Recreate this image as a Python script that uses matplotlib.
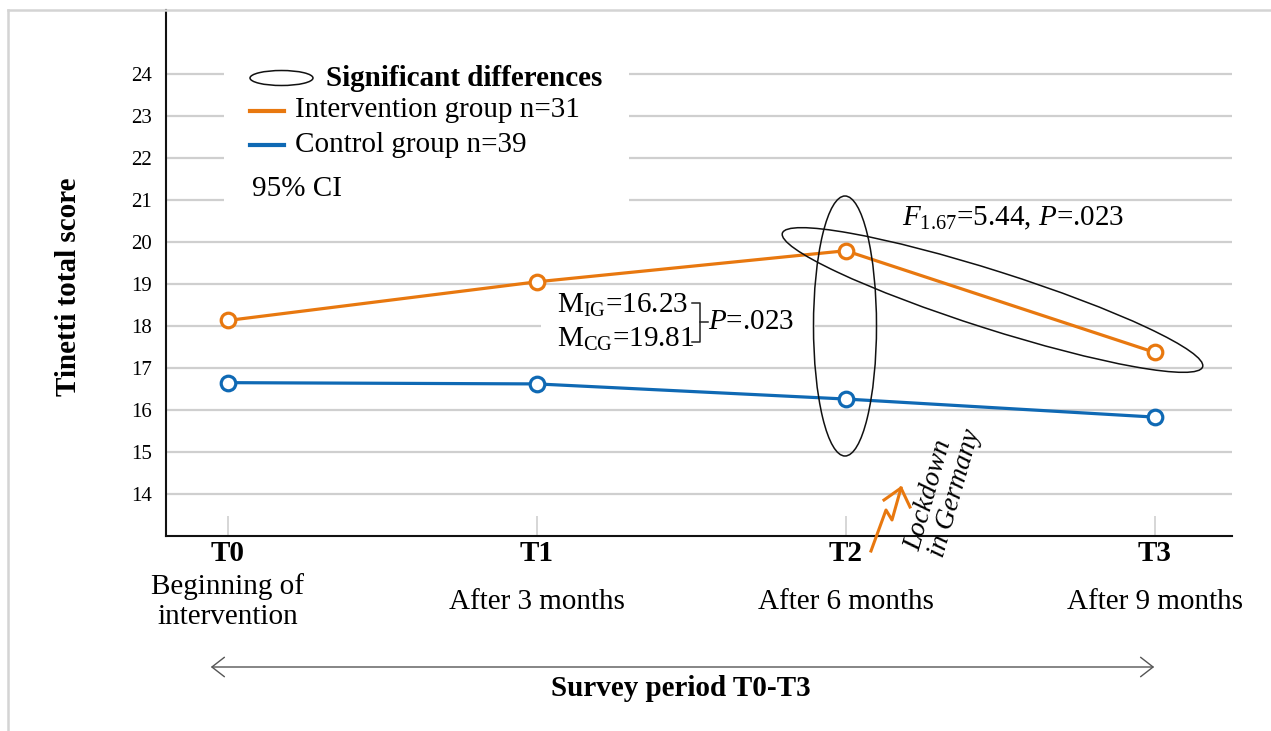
import matplotlib
matplotlib.use("Agg")
import matplotlib.pyplot as plt
from matplotlib.patches import Ellipse, Rectangle, FancyArrowPatch
from matplotlib.lines import Line2D
from matplotlib.transforms import Affine2D, blended_transform_factory

plt.rcParams['font.family'] = ['Liberation Serif', 'DejaVu Serif']
plt.rcParams['mathtext.fontset'] = 'custom'
plt.rcParams['mathtext.rm'] = 'Liberation Serif'
plt.rcParams['mathtext.it'] = 'Liberation Serif:italic'
plt.rcParams['mathtext.bf'] = 'Liberation Serif:bold'

# data
time_points = ['T0', 'T1', 'T2', 'T3']
time_labels = ['Beginning of\nintervention', 'After 3 months', 'After 6 months', 'After 9 months']
ig_scores = [18.13, 19.05, 19.79, 17.37]
cg_scores = [16.65, 16.62, 16.26, 15.83]
y_ticks = list(range(14, 25))

ORANGE = '#E8780F'
BLUE = '#0F69B4'
GRID = '#cfcfcf'

W, H = 1271, 731
fig = plt.figure(figsize=(W / 100, H / 100), dpi=100)
# pixel coordinates, origin top-left (for annotation placement)
PX = Affine2D().scale(1, -1).translate(0, H)

ax = fig.add_axes([166 / W, 1 - 536 / H, (1232 - 166) / W, (536 - 10) / H])
x = list(range(len(time_points)))

ax.plot(x, ig_scores, color=ORANGE, lw=2.3, marker='o', ms=10.5, mfc='white', mew=2.3, zorder=4)
ax.plot(x, cg_scores, color=BLUE, lw=2.3, marker='o', ms=10.5, mfc='white', mew=2.3, zorder=4)

ax.set_xlim(-0.2, 3.25)
ax.set_ylim(13, 25.52)
ax.set_yticks(y_ticks)
ax.tick_params(axis='y', length=0, pad=10, labelsize=15)
ax.set_xticks(x)
ax.set_xticklabels(time_points, fontweight='bold', fontsize=21)
ax.tick_params(axis='x', direction='in', length=14.5, width=1.2, color=GRID, pad=3)
ax.grid(axis='y', color=GRID, lw=1.6)
ax.set_axisbelow(True)
for side in ['top', 'right']:
    ax.spines[side].set_visible(False)
for side in ['left', 'bottom']:
    ax.spines[side].set_linewidth(1.5)
    ax.spines[side].set_color('#111111')

# white boxes behind legend and mean annotation
ax.add_patch(Rectangle((224, 55), 405, 160, transform=PX, facecolor='white', edgecolor='none', zorder=1))
ax.add_patch(Rectangle((541, 292), 274, 64, transform=PX, facecolor='white', edgecolor='none', zorder=1))

# sub labels under ticks
xsub = blended_transform_factory(ax.transData, PX)
for i, lab in enumerate(time_labels):
    ax.text(i, 602, lab, transform=xsub, ha='center', va='center', fontsize=21,
            linespacing=1.2, clip_on=False)

# y label
fig.text(68, 287, 'Tinetti total score', transform=PX, rotation=90, ha='center', va='center',
         fontsize=21, fontweight='bold')

# legend
ax.add_patch(Ellipse((281.5, 78), 63, 15, transform=PX, fill=False, edgecolor='#111111', lw=1.1,
                     clip_on=False, zorder=5))
fig.text(326, 78, 'Significant differences', transform=PX, va='center', fontsize=21, fontweight='bold')
fig.add_artist(Line2D([250, 284], [111, 111], transform=PX, color=ORANGE, lw=3))
fig.text(295, 110, 'Intervention group n=31', transform=PX, va='center', fontsize=21)
fig.add_artist(Line2D([250, 284], [145, 145], transform=PX, color=BLUE, lw=3))
fig.text(295, 145, 'Control group n=39', transform=PX, va='center', fontsize=21)
fig.text(252, 189, '95% CI', transform=PX, va='center', fontsize=21)

# significance ellipses
ax.add_patch(Ellipse((845, 326), 63, 260, transform=PX, fill=False, edgecolor='#111111', lw=1.1,
                     clip_on=False, zorder=5))
ax.add_patch(Ellipse((992.5, 300), 441, 58, angle=17.65, transform=PX, fill=False,
                     edgecolor='#111111', lw=1.1, clip_on=False, zorder=5))

fig.text(902, 218, r'$F_{\mathit{1.67}}$=5.44, $P$=.023', transform=PX, va='center', fontsize=21)

# mean comparison
fig.text(557, 305, r'M$_{\rm IG}$=16.23', transform=PX, va='center', fontsize=21)
fig.text(557, 339, r'M$_{\rm CG}$=19.81', transform=PX, va='center', fontsize=21)
fig.add_artist(Line2D([692, 700, 700, 692], [303, 303, 342, 342], transform=PX, color='#222222', lw=1.1))
fig.add_artist(Line2D([700, 708], [322, 322], transform=PX, color='#222222', lw=1.1))
fig.text(708, 322, r'$P$=.023', transform=PX, va='center', fontsize=21)

# lockdown marker
fig.add_artist(Line2D([871, 886, 892, 901], [551, 510, 520, 488], transform=PX, color=ORANGE, lw=2.2))
fig.add_artist(Line2D([884, 901, 910], [500, 488, 507], transform=PX, color=ORANGE, lw=2.2))
fig.text(943, 490, 'Lockdown\nin Germany', transform=PX, rotation=74, ha='center', va='center',
         fontsize=20, fontstyle='italic', multialignment='left', linespacing=1.0)

# survey period arrow
fig.add_artist(FancyArrowPatch((208, 667), (1157, 667), transform=PX,
                               arrowstyle='<->,head_length=0.45,head_width=0.35',
                               mutation_scale=20, color='#555555', lw=1.0))
fig.text(681, 688, 'Survey period T0-T3', transform=PX, ha='center', va='center',
         fontsize=21, fontweight='bold')

# outer frame
fig.add_artist(Line2D([8, W], [10, 10], transform=PX, color='#d4d4d4', lw=1.8))
fig.add_artist(Line2D([8, 8], [10, H], transform=PX, color='#d4d4d4', lw=1.8))

fig.savefig('out.png', dpi=100)
